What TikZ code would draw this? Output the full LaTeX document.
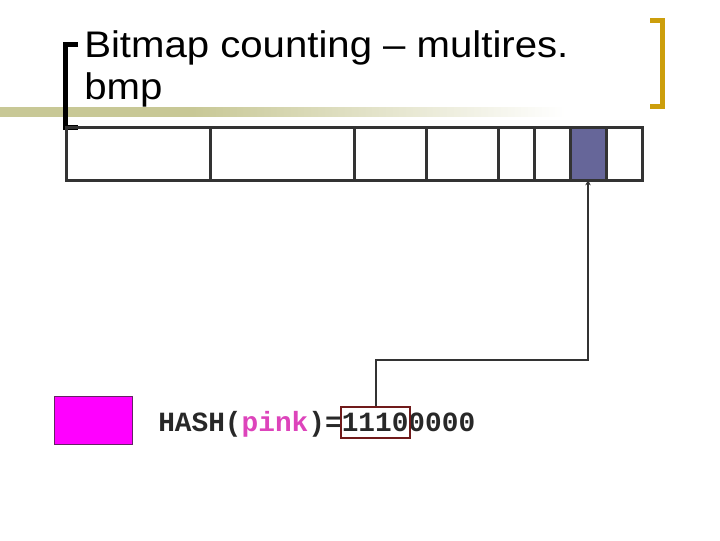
\documentclass[tikz,border=0pt]{standalone}
\usepackage{fontspec}
\usetikzlibrary{arrows.meta}
\newfontfamily\titlefont[FakeStretch=1.085]{Liberation Sans}
\newfontfamily\codefont{Liberation Mono}
\definecolor{cellline}{RGB}{51,51,51}
\definecolor{cellfill}{RGB}{102,102,153}
\definecolor{khaki}{RGB}{200,200,150}
\definecolor{gold}{RGB}{204,158,12}
\definecolor{hashred}{RGB}{112,26,26}
\definecolor{pinktext}{RGB}{221,68,187}
\definecolor{codegray}{RGB}{40,40,40}
\definecolor{pinkborder}{RGB}{102,34,102}
\definecolor{pinkfill}{RGB}{255,0,255}
\pgfdeclarehorizontalshading{barshade}{100bp}{color(0bp)=(khaki); color(25bp)=(khaki); color(42bp)=(khaki); color(75bp)=(white); color(100bp)=(white)}
\tikzset{
  cellbox/.style={draw=cellline, line width=2.25pt, minimum height=39.75pt, inner sep=0pt, outer sep=0pt},
  bracketline/.style={line width=3.75pt, line cap=butt, line join=miter},
  connector/.style={draw=cellline, line width=1.5pt},
  titletext/.style={anchor=base west, inner sep=0pt, font=\titlefont\fontsize{27.75}{32}\selectfont},
}
\begin{document}
\begin{tikzpicture}[x=0.75pt,y=-0.75pt]
\useasboundingbox (0,0) rectangle (720,540);
% title underline bar
\shade[shading=barshade] (0,107.5) rectangle (565,116.5);
% title
\node[titletext] (title1) at (84,57) {Bitmap counting – multires.};
\node[titletext] (title2) at (84,99.5) {bmp};
% brackets
\draw[bracketline, black] (78,44) -- (65.5,44) -- (65.5,127.5) -- (78,127.5);
\draw[bracketline, gold] (650,20.5) -- (662.5,20.5) -- (662.5,106.5) -- (650,106.5);
% bitmap cells
\node[cellbox, minimum width=108pt] (c1) at (138,153.5) {};
\node[cellbox, minimum width=108pt] (c2) at (282,153.5) {};
\node[cellbox, minimum width=54pt] (c3) at (390,153.5) {};
\node[cellbox, minimum width=54pt] (c4) at (462,153.5) {};
\node[cellbox, minimum width=27pt] (c5) at (516,153.5) {};
\node[cellbox, minimum width=27pt] (c6) at (552,153.5) {};
\node[cellbox, minimum width=27pt, fill=cellfill] (c7) at (588,153.5) {};
\node[cellbox, minimum width=27pt] (c8) at (624,153.5) {};
% pink square
\node[draw=pinkborder, line width=0.75pt, fill=pinkfill, minimum width=58.5pt, minimum height=36pt, inner sep=0pt] (pinkbox) at (93,420) {};
% hash text
\node[anchor=base west, inner sep=0pt, text=codegray, font=\codefont\bfseries\fontsize{20.85}{24}\selectfont] (hash) at (158,431) {HASH(\textcolor{pinktext}{pink})=11100000};
% highlight box
\node[draw=hashred, line width=1.5pt, minimum width=51.75pt, minimum height=23.25pt, inner sep=0pt] (hl) at (375.5,422.5) {};
% connector
\coordinate (bend) at (588,360);
\draw[connector, -{Stealth[length=4pt,width=4pt]}] (hl.north) |- (bend) -- (c7.south);
\end{tikzpicture}
\end{document}
